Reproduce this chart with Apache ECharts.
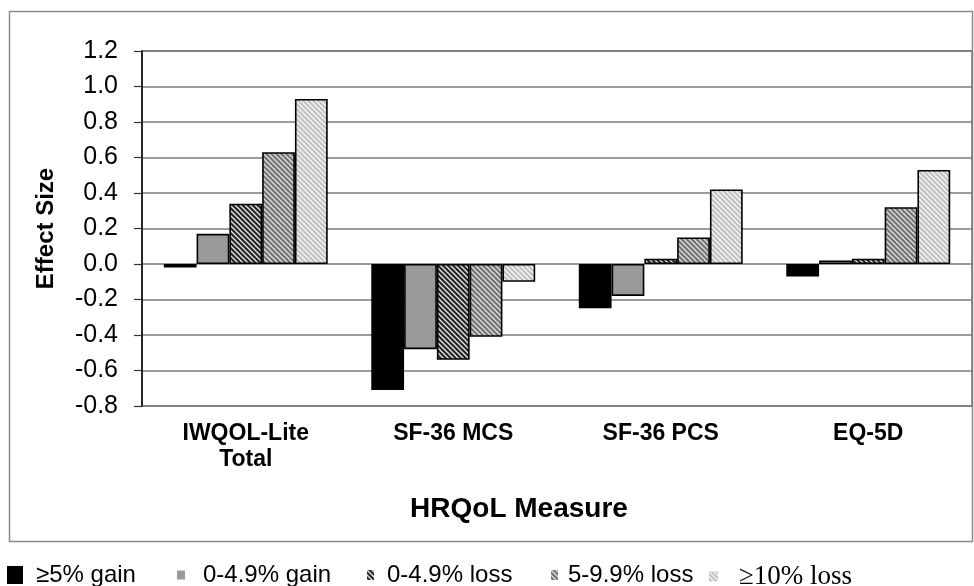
<!DOCTYPE html>
<html>
<head>
<meta charset="utf-8">
<script src="https://cdn.jsdelivr.net/npm/echarts@6/dist/echarts.min.js"></script>
<style>
html,body{margin:0;padding:0;background:#fff;}
#chart{width:974px;height:586px;}
</style>
</head>
<body>
<div id="chart"></div>
<script>
const categories = ['IWQOL-Lite\nTotal', 'SF-36 MCS', 'SF-36 PCS', 'EQ-5D'];
const seriesNames = ['≥5% gain', '0-4.9% gain', '0-4.9% loss', '5-9.9% loss', '≥10% loss'];
const gain5 = [-0.02, -0.71, -0.25, -0.07];
const gain0to49 = [0.17, -0.48, -0.18, 0.02];
const loss0to49 = [0.34, -0.54, 0.03, 0.03];
const loss5to99 = [0.63, -0.41, 0.15, 0.32];
const loss10 = [0.93, -0.10, 0.42, 0.53];
const yMin = -0.8, yMax = 1.2, yStep = 0.2;

function stripes(bg, fg, lw) {
  const s = 5;
  const c = document.createElement('canvas');
  c.width = s; c.height = s;
  const g = c.getContext('2d');
  g.fillStyle = bg; g.fillRect(0, 0, s, s);
  g.strokeStyle = fg; g.lineWidth = lw;
  for (const k of [-s, 0, s]) {
    g.beginPath(); g.moveTo(-1, k - 1); g.lineTo(s + 1, s + k + 1); g.stroke();
  }
  return {image: c, repeat: 'repeat'};
}

const fills = [
  '#000000',
  '#999999',
  stripes('#262626', '#e8e8e8', 1.3),
  stripes('#737373', '#e0e0e0', 1.3),
  stripes('#c0c0c0', '#f6f6f6', 1.4)
];
const values = [gain5, gain0to49, loss0to49, loss5to99, loss10];

const chart = echarts.init(document.getElementById('chart'), null, {renderer: 'canvas'});

const series = values.map((v, i) => ({
  name: seriesNames[i],
  type: 'bar',
  data: v,
  barGap: '0%',
  barCategoryGap: '21%',
  itemStyle: {color: fills[i], borderColor: '#000', borderWidth: 1.6},
  emphasis: {disabled: true},
  animation: false
}));

const legendSpec = [
  {left: 7, w: 16, h: 18, pad: 8, font: 'Liberation Sans, Arial', size: 24},
  {left: 177, w: 8, h: 9, pad: 13, font: 'Liberation Sans, Arial', size: 24},
  {left: 367, w: 7, h: 10, pad: 8, font: 'Liberation Sans, Arial', size: 24},
  {left: 551, w: 7, h: 10, pad: 5, font: 'Liberation Sans, Arial', size: 24},
  {left: 709, w: 9, h: 10, pad: 16, font: 'Liberation Serif, Times New Roman', size: 27}
];
const legends = legendSpec.map((L, i) => ({
  left: L.left,
  top: 563,
  padding: 0,
  orient: 'horizontal',
  selectedMode: false,
  itemWidth: L.w,
  itemHeight: L.h,
  icon: 'rect',
  itemStyle: {borderWidth: 0},
  data: [seriesNames[i]],
  textStyle: {fontFamily: L.font, fontSize: L.size, color: '#000', padding: [0, 0, 0, L.pad]}
}));

chart.setOption({
  backgroundColor: '#fff',
  animation: false,
  graphic: [{
    type: 'rect',
    shape: {x: 9.5, y: 11.5, width: 963, height: 530},
    style: {fill: 'none', stroke: '#8a8a8a', lineWidth: 1.5},
    silent: true,
    z: -1
  }],
  legend: legends,
  grid: {
    left: 142, right: 2, top: 51, bottom: 180,
    show: true, borderColor: '#7a7a7a', borderWidth: 1.5, backgroundColor: 'transparent'
  },
  xAxis: {
    type: 'category',
    data: categories,
    axisLine: {show: false, onZero: false},
    axisTick: {show: false},
    axisLabel: {
      margin: 15, fontFamily: 'Liberation Sans, Arial', fontWeight: 'bold',
      fontSize: 23, lineHeight: 26, color: '#000'
    },
    name: 'HRQoL Measure',
    nameLocation: 'middle',
    nameGap: 89,
    nameTextStyle: {
      fontFamily: 'Liberation Sans, Arial', fontWeight: 'bold', fontSize: 28,
      color: '#000', padding: [0, 76, 0, 0]
    }
  },
  yAxis: {
    type: 'value',
    min: yMin, max: yMax, interval: yStep,
    axisLine: {show: true, lineStyle: {color: '#000', width: 1.5}},
    axisTick: {show: true, length: 8, lineStyle: {color: '#333', width: 1.2}},
    splitLine: {show: true, lineStyle: {color: '#7a7a7a', width: 1.5}},
    axisLabel: {
      margin: 24, fontFamily: 'Liberation Sans, Arial', fontSize: 25, color: '#000',
      formatter: v => (Math.abs(v) < 1e-9 ? 0 : v).toFixed(1)
    },
    name: 'Effect Size',
    nameLocation: 'middle',
    nameGap: 84,
    nameTextStyle: {fontFamily: 'Liberation Sans, Arial', fontWeight: 'bold', fontSize: 24, color: '#000'}
  },
  series: series
});
</script>
</body>
</html>
